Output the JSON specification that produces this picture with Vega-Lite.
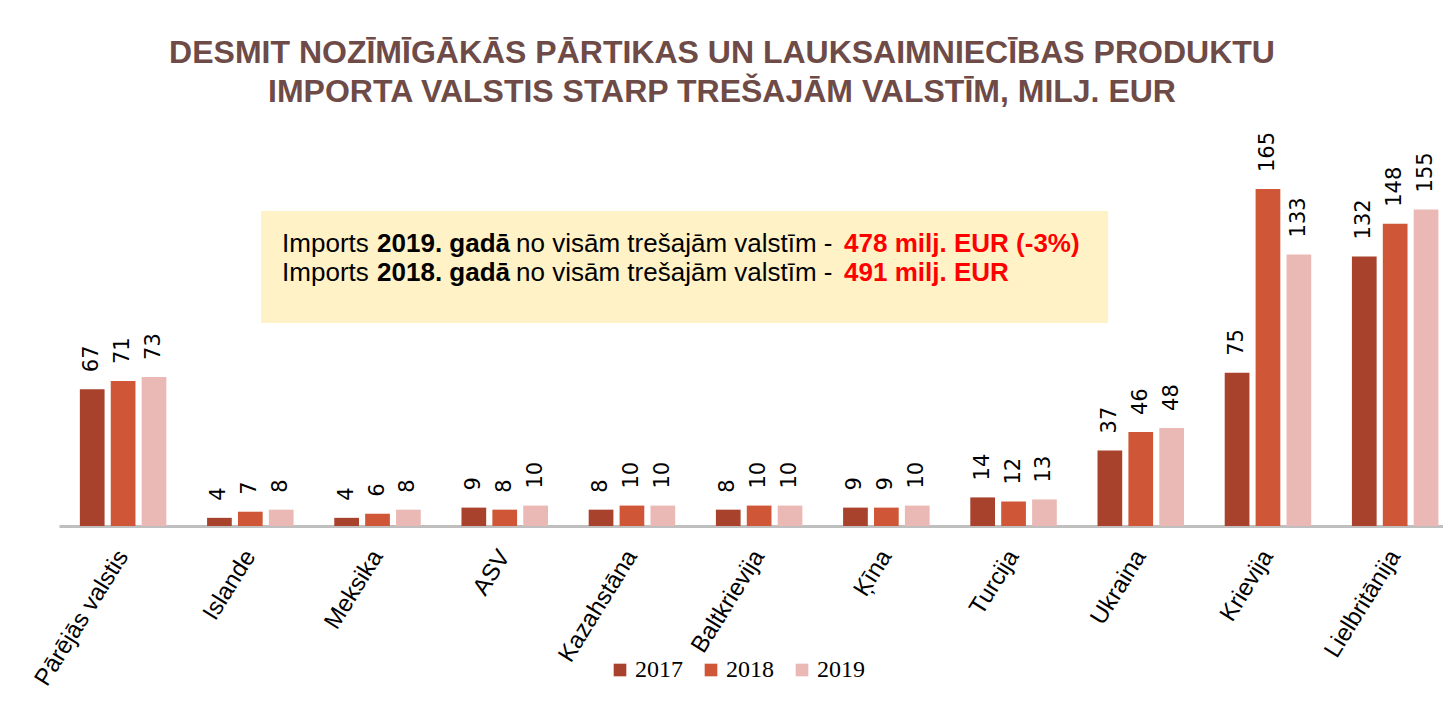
{
  "$schema": "https://vega.github.io/schema/vega-lite/v6.json",
  "width": 1384,
  "height": 388,
  "autosize": {"type": "none"},
  "padding": {"left": 59, "top": 138, "right": 0, "bottom": 176},
  "background": "white",
  "title": {
    "text": ["DESMIT NOZĪMĪGĀKĀS PĀRTIKAS UN LAUKSAIMNIECĪBAS PRODUKTU", "IMPORTA VALSTIS STARP TREŠAJĀM VALSTĪM, MILJ. EUR"],
    "font": "Liberation Sans",
    "fontWeight": "bold",
    "fontSize": 32,
    "color": "#6E4B47",
    "anchor": "middle",
    "dx": -29,
    "offset": 23,
    "lineHeight": 39
  },
  "config": {"view": {"stroke": null}, "font": "Liberation Sans"},
  "datasets": {
    "bars": [
      {"country": "Pārējās valstis", "year": "2017", "value": 67},
      {"country": "Pārējās valstis", "year": "2018", "value": 71},
      {"country": "Pārējās valstis", "year": "2019", "value": 73},
      {"country": "Islande", "year": "2017", "value": 4},
      {"country": "Islande", "year": "2018", "value": 7},
      {"country": "Islande", "year": "2019", "value": 8},
      {"country": "Meksika", "year": "2017", "value": 4},
      {"country": "Meksika", "year": "2018", "value": 6},
      {"country": "Meksika", "year": "2019", "value": 8},
      {"country": "ASV", "year": "2017", "value": 9},
      {"country": "ASV", "year": "2018", "value": 8},
      {"country": "ASV", "year": "2019", "value": 10},
      {"country": "Kazahstāna", "year": "2017", "value": 8},
      {"country": "Kazahstāna", "year": "2018", "value": 10},
      {"country": "Kazahstāna", "year": "2019", "value": 10},
      {"country": "Baltkrievija", "year": "2017", "value": 8},
      {"country": "Baltkrievija", "year": "2018", "value": 10},
      {"country": "Baltkrievija", "year": "2019", "value": 10},
      {"country": "Ķīna", "year": "2017", "value": 9},
      {"country": "Ķīna", "year": "2018", "value": 9},
      {"country": "Ķīna", "year": "2019", "value": 10},
      {"country": "Turcija", "year": "2017", "value": 14},
      {"country": "Turcija", "year": "2018", "value": 12},
      {"country": "Turcija", "year": "2019", "value": 13},
      {"country": "Ukraina", "year": "2017", "value": 37},
      {"country": "Ukraina", "year": "2018", "value": 46},
      {"country": "Ukraina", "year": "2019", "value": 48},
      {"country": "Krievija", "year": "2017", "value": 75},
      {"country": "Krievija", "year": "2018", "value": 165},
      {"country": "Krievija", "year": "2019", "value": 133},
      {"country": "Lielbritānija", "year": "2017", "value": 132},
      {"country": "Lielbritānija", "year": "2018", "value": 148},
      {"country": "Lielbritānija", "year": "2019", "value": 155}
    ],
    "box": [{"x": 1.606, "x2": 8.339, "y": 99.4, "y2": 154.3}],
    "notes": [
      {"kind": "normal", "text": "Imports", "x": 1.773, "y": 134.2},
      {"kind": "bold", "text": "2019. gadā", "x": 2.528, "y": 134.2},
      {"kind": "normal", "text": "no visām trešajām valstīm -", "x": 3.633, "y": 134.2},
      {"kind": "red", "text": "478 milj. EUR (-3%)", "x": 6.24, "y": 134.2},
      {"kind": "normal", "text": "Imports", "x": 1.773, "y": 120.0},
      {"kind": "bold", "text": "2018. gadā", "x": 2.528, "y": 120.0},
      {"kind": "normal", "text": "no visām trešajām valstīm -", "x": 3.633, "y": 120.0},
      {"kind": "red", "text": "491 milj. EUR", "x": 6.24, "y": 120.0}
    ]
  },
  "layer": [
    {
      "data": {"name": "bars"},
      "encoding": {
        "x": {
          "field": "country", "type": "nominal", "sort": null,
          "scale": {"paddingInner": 0.32, "paddingOuter": 0.1, "align": 0.82},
          "axis": {
            "title": null, "labelAngle": -58, "labelAlign": "right", "labelBaseline": "middle",
            "labelFont": "Liberation Sans", "labelFontSize": 24, "labelColor": "black",
            "labelPadding": 26, "ticks": false, "domainColor": "#BFBFBF", "domainWidth": 3,
            "labelLimit": 0
          }
        },
        "xOffset": {"field": "year", "type": "nominal", "scale": {"paddingInner": 0.2}},
        "y": {"field": "value", "type": "quantitative", "scale": {"domain": [0, 190]}, "axis": null}
      },
      "layer": [
        {
          "mark": {"type": "bar"},
          "encoding": {
            "color": {
              "field": "year", "type": "nominal",
              "scale": {"domain": ["2017", "2018", "2019"], "range": ["#A8422C", "#CF5636", "#EAB9B5"]},
              "legend": {
                "orient": "none", "legendX": 549, "legendY": 520, "direction": "horizontal",
                "title": null, "symbolType": "square", "symbolSize": 160,
                "labelFont": "Liberation Serif", "labelFontSize": 24, "labelColor": "black",
                "columnPadding": 16, "labelOffset": 3, "symbolStrokeWidth": 0
              }
            }
          }
        },
        {
          "mark": {"type": "text", "angle": -90, "align": "left", "baseline": "middle", "dx": 17, "font": "DejaVu Sans", "fontSize": 21, "color": "black"},
          "encoding": {"text": {"field": "value", "type": "quantitative"}}
        }
      ]
    },
    {
      "data": {"name": "box"},
      "mark": {"type": "rect", "color": "#FFF2C6"},
      "encoding": {
        "x": {"field": "x", "type": "quantitative", "scale": {"domain": [0, 11]}, "axis": null},
        "x2": {"field": "x2"},
        "y": {"field": "y", "type": "quantitative", "scale": {"domain": [0, 190]}, "axis": null},
        "y2": {"field": "y2"}
      }
    },
    {
      "data": {"name": "notes"},
      "transform": [{"filter": "datum.kind === 'normal'"}],
      "mark": {"type": "text", "align": "left", "baseline": "alphabetic", "font": "Liberation Sans", "fontSize": 26, "color": "black"},
      "encoding": {
        "x": {"field": "x", "type": "quantitative", "scale": {"domain": [0, 11]}, "axis": null},
        "y": {"field": "y", "type": "quantitative", "scale": {"domain": [0, 190]}, "axis": null},
        "text": {"field": "text"}
      }
    },
    {
      "data": {"name": "notes"},
      "transform": [{"filter": "datum.kind === 'bold'"}],
      "mark": {"type": "text", "align": "left", "baseline": "alphabetic", "font": "Liberation Sans", "fontSize": 26, "fontWeight": "bold", "color": "black"},
      "encoding": {
        "x": {"field": "x", "type": "quantitative", "scale": {"domain": [0, 11]}, "axis": null},
        "y": {"field": "y", "type": "quantitative", "scale": {"domain": [0, 190]}, "axis": null},
        "text": {"field": "text"}
      }
    },
    {
      "data": {"name": "notes"},
      "transform": [{"filter": "datum.kind === 'red'"}],
      "mark": {"type": "text", "align": "left", "baseline": "alphabetic", "font": "Liberation Sans", "fontSize": 26, "fontWeight": "bold", "color": "#FF0000"},
      "encoding": {
        "x": {"field": "x", "type": "quantitative", "scale": {"domain": [0, 11]}, "axis": null},
        "y": {"field": "y", "type": "quantitative", "scale": {"domain": [0, 190]}, "axis": null},
        "text": {"field": "text"}
      }
    }
  ],
  "resolve": {"scale": {"x": "independent"}, "axis": {"x": "independent"}}
}
